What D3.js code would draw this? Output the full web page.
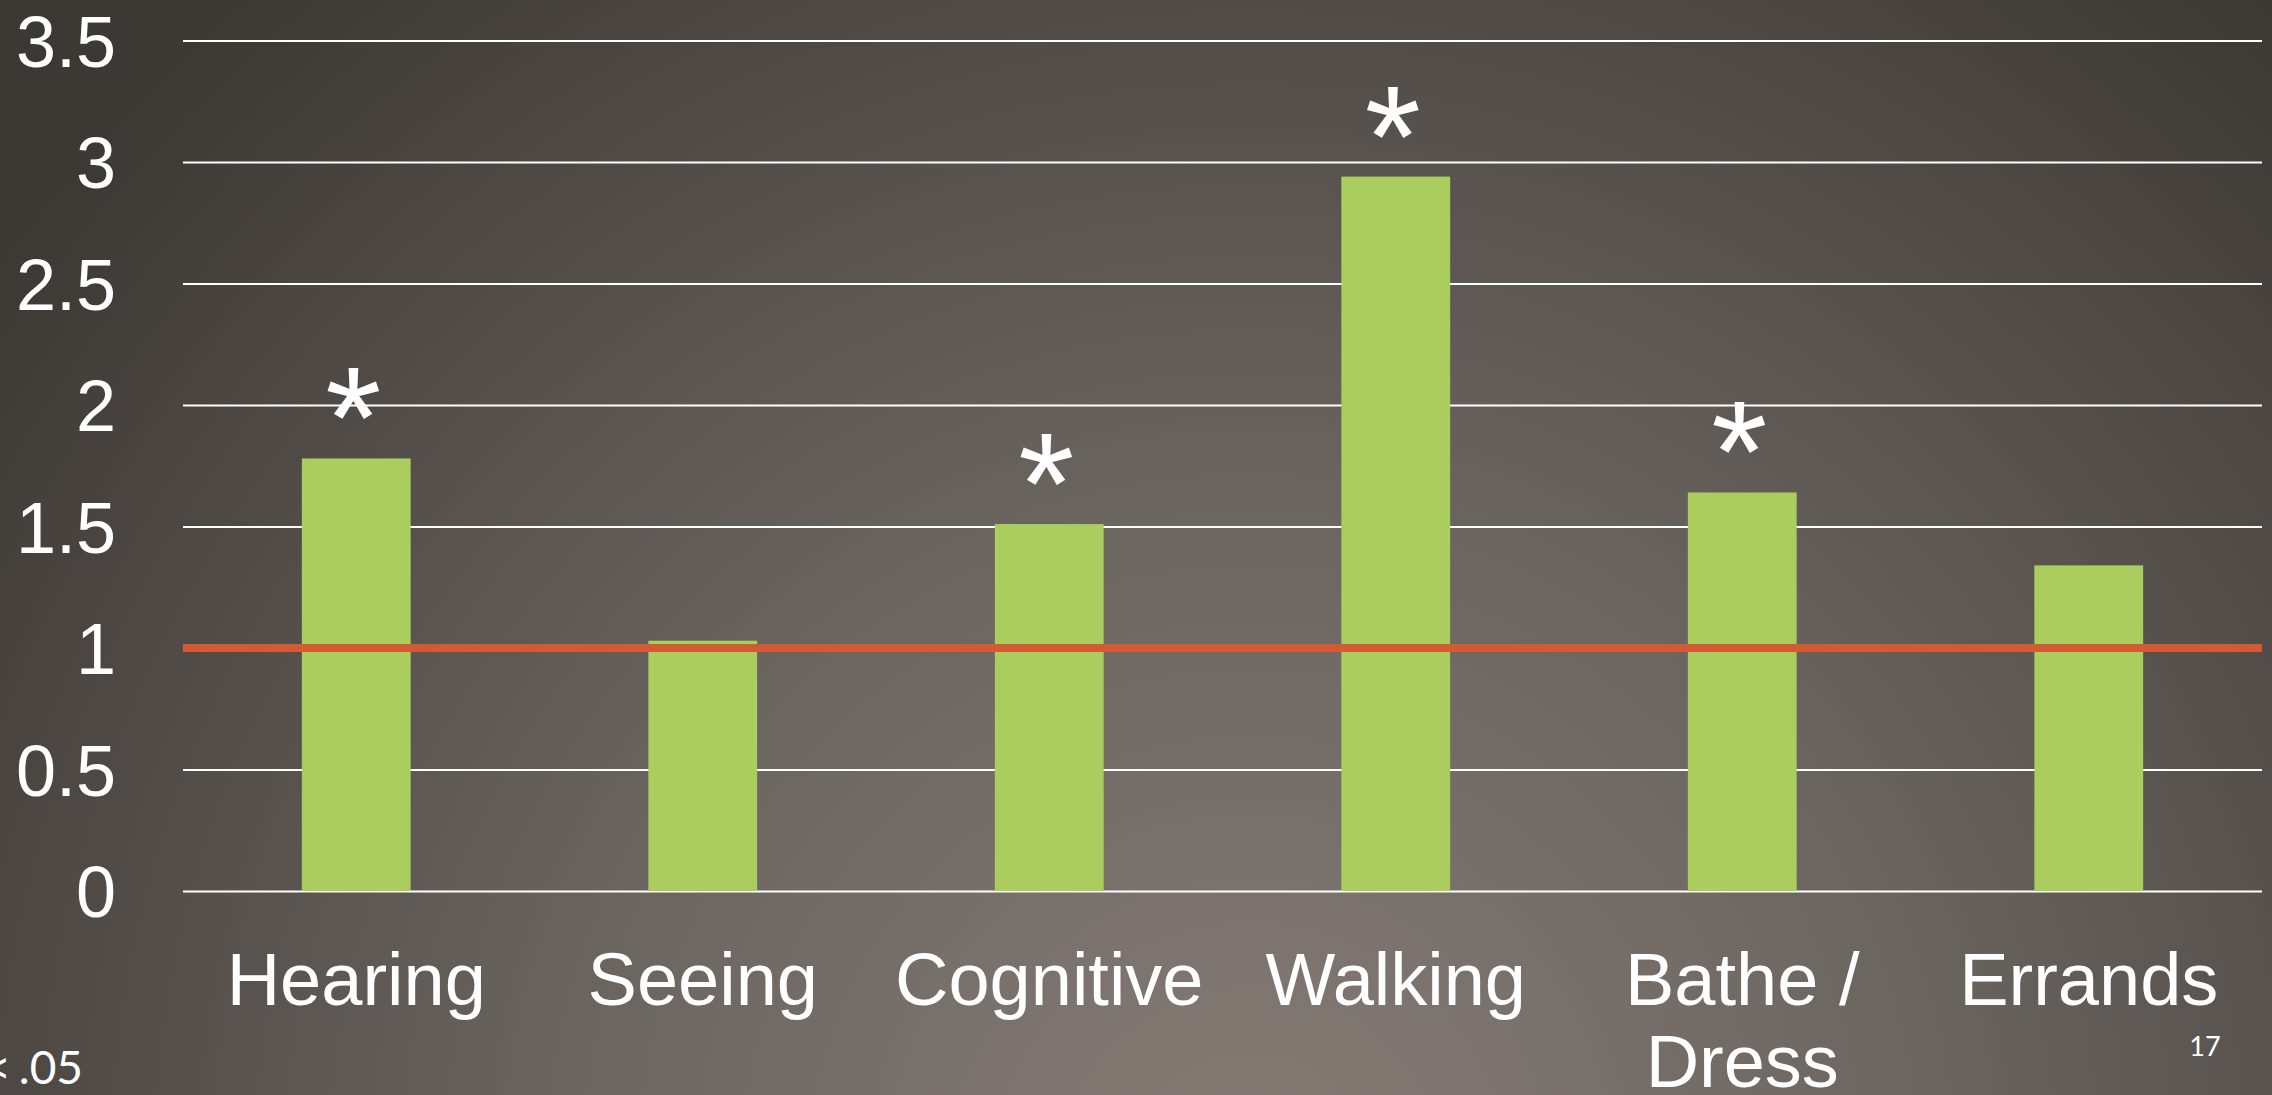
<!DOCTYPE html>
<html>
<head>
<meta charset="utf-8">
<script src="https://cdn.jsdelivr.net/npm/d3@7"></script>
<style>
  html, body { margin: 0; padding: 0; overflow: hidden; background: #4a4541; }
  svg { display: block; }
</style>
</head>
<body>
<script>
// ---- data ----
const categories = ["Hearing", "Seeing", "Cognitive", "Walking", "Bathe / Dress", "Errands"];
const values = [1.78, 1.03, 1.51, 2.94, 1.64, 1.34];
const significant = [true, false, true, true, true, false];
const yTicks = [0, 0.5, 1, 1.5, 2, 2.5, 3, 3.5];
const yTickLabels = ["0", "0.5", "1", "1.5", "2", "2.5", "3", "3.5"];
const referenceValue = [1];
const footnote = "* p < .05";
const pageNumber = "17";

// ---- layout ----
const W = 2272, H = 1095;
const plot = { left: 183, right: 2262, top: 40.5, bottom: 891 };

const svg = d3.select("body").append("svg").attr("width", W).attr("height", H);

const defs = svg.append("defs");
const grad = defs.append("radialGradient").attr("id", "bg")
  .attr("gradientUnits", "userSpaceOnUse")
  .attr("cx", 1250).attr("cy", 1180).attr("r", 1550);
grad.append("stop").attr("offset", 0).attr("stop-color", "#867c76");
grad.append("stop").attr("offset", 0.45).attr("stop-color", "#6a645f");
grad.append("stop").attr("offset", 0.8).attr("stop-color", "#4d4844");
grad.append("stop").attr("offset", 1).attr("stop-color", "#3c3834");
svg.append("rect").attr("width", W).attr("height", H).attr("fill", "url(#bg)");

const x = d3.scaleBand().domain(categories)
  .range([plot.left, plot.right]).paddingInner(0.686).paddingOuter(0.343);
const y = d3.scaleLinear().domain([0, 3.5]).range([plot.bottom, plot.top]);

// gridlines
const yAxis = d3.axisLeft(y).tickValues(yTicks)
  .tickSize(-(plot.right - plot.left))
  .tickFormat((d, i) => yTickLabels[i]).tickPadding(67);
const ga = svg.append("g").attr("transform", `translate(${plot.left},0)`).call(yAxis);
ga.select(".domain").remove();
ga.selectAll(".tick line").attr("stroke", "#ffffff").attr("stroke-width", 2.2);
ga.selectAll(".tick text")
  .attr("fill", "#ffffff")
  .attr("font-family", "'Liberation Sans', Arial, sans-serif")
  .attr("font-size", 72)
  .attr("dy", "0.36em");

// bars
svg.append("g").selectAll("rect").data(values).join("rect")
  .attr("x", (d, i) => x(categories[i]))
  .attr("width", x.bandwidth())
  .attr("y", d => y(d))
  .attr("height", d => y(0) - y(d))
  .attr("fill", "#abcd5e");

// reference line
svg.append("g").selectAll("line").data(referenceValue).join("line")
  .attr("x1", plot.left).attr("x2", plot.right)
  .attr("y1", d => y(d)).attr("y2", d => y(d))
  .attr("stroke", "#d35a33").attr("stroke-width", 8);

// asterisks
svg.append("g").selectAll("text").data(values.map((v, i) => ({ v, i })).filter(d => significant[d.i]))
  .join("text")
  .attr("x", d => x(categories[d.i]) + x.bandwidth() / 2 - 3)
  .attr("y", d => y(d.v) + 10)
  .attr("text-anchor", "middle")
  .attr("fill", "#ffffff")
  .attr("font-family", "'Liberation Sans', Arial, sans-serif")
  .attr("font-size", 144)
  .text("*");

// category labels
const xAxis = d3.axisBottom(x).tickSize(0).tickPadding(0);
const gx = svg.append("g").attr("transform", `translate(0,${plot.bottom})`).call(xAxis);
gx.select(".domain").remove();
gx.selectAll(".tick text").each(function (d) {
  const t = d3.select(this);
  t.text(null).attr("y", 0).attr("dy", null)
    .attr("fill", "#ffffff")
    .attr("font-family", "'Liberation Sans', Arial, sans-serif")
    .attr("font-size", 74)
    .attr("text-anchor", "middle");
  const lines = d === "Bathe / Dress" ? ["Bathe /", "Dress"] : [d];
  lines.forEach((ln, k) => {
    t.append("tspan").attr("x", 0).attr("y", 114 + k * 82).text(ln);
  });
});

// footnote (cut at the left edge, as in the slide)
svg.append("text")
  .attr("x", 83).attr("y", 1084)
  .attr("text-anchor", "end")
  .attr("fill", "#ffffff")
  .attr("font-family", "Lato, 'Open Sans', sans-serif")
  .attr("font-size", 46)
  .attr("word-spacing", -4)
  .text(footnote);

// page number
svg.append("text")
  .attr("x", 2205).attr("y", 1056)
  .attr("text-anchor", "middle")
  .attr("fill", "#ffffff")
  .attr("font-family", "Lato, 'Open Sans', sans-serif")
  .attr("font-size", 27)
  .text(pageNumber);
</script>
</body>
</html>
